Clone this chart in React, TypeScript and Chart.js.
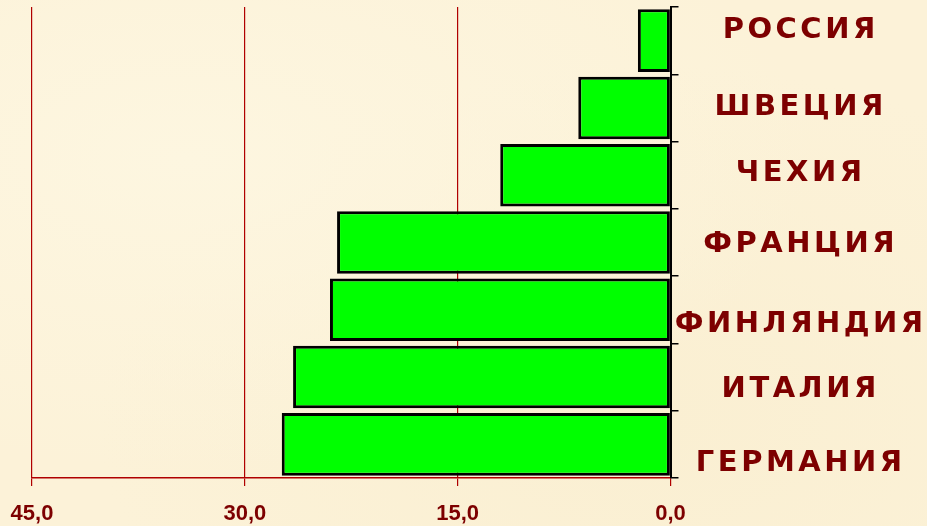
import React, { useEffect, useRef } from "react";
import { Chart, registerables } from "chart.js";

Chart.register(...registerables);

const countries = ["РОССИЯ", "ШВЕЦИЯ", "ЧЕХИЯ", "ФРАНЦИЯ", "ФИНЛЯНДИЯ", "ИТАЛИЯ", "ГЕРМАНИЯ"];
const values = [2.3, 6.5, 12.0, 23.5, 24.0, 26.6, 27.4];
const axisMin = 0;
const axisMax = 45;
const axisStep = 15;

// vertical nudges (px) of the category labels, as in the reference
const labelShift = [-10, 0, -2, 2, 15, 12, 19];

const MAROON = "#7d0000";
const GRID_RED = "#b00000";

const spacingPlugin = {
  id: "labelSpacing",
  afterDatasetsDraw(chart: any) {
    (chart.ctx as any).letterSpacing = "3.5px";
  },
  afterDraw(chart: any) {
    (chart.ctx as any).letterSpacing = "0px";
  },
};

export default function App() {
  const ref = useRef<HTMLCanvasElement | null>(null);
  useEffect(() => {
    if (!ref.current) return;
    const chart = new Chart(ref.current, {
      type: "bar",
      data: {
        labels: countries,
        datasets: [
          {
            data: values,
            backgroundColor: "#00ff00",
            borderColor: "#000000",
            borderWidth: 3,
            borderSkipped: false,
            barPercentage: 0.93,
            categoryPercentage: 1,
          },
        ],
      },
      options: {
        indexAxis: "y",
        responsive: false,
        animation: false,
        layout: { autoPadding: false, padding: { left: 32, top: 7, right: 0, bottom: 0 } },
        plugins: { legend: { display: false }, tooltip: { enabled: false } },
        scales: {
          x: {
            reverse: true,
            min: axisMin,
            max: axisMax,
            afterFit: (s: any) => {
              s.height = 48;
              s.paddingLeft = 0;
              s.paddingRight = 0;
              s.paddingTop = 0;
              s.paddingBottom = 0;
            },
            ticks: {
              stepSize: axisStep,
              color: MAROON,
              padding: 15,
              font: { family: "'Liberation Sans', Arial, sans-serif", size: 22, weight: "bold" },
              callback: (v: any) => Number(v).toFixed(1).replace(".", ","),
            },
            grid: { color: GRID_RED, lineWidth: 1.2, tickLength: 8, drawOnChartArea: true },
            border: { color: GRID_RED, width: 1.5 },
          },
          y: {
            position: "right",
            afterFit: (s: any) => {
              s.width = 256.5;
              s.paddingLeft = 0;
              s.paddingRight = 0;
              s.paddingTop = 0;
              s.paddingBottom = 0;
            },
            ticks: {
              z: 1,
              color: MAROON,
              padding: 12,
              crossAlign: "center",
              autoSkip: false,
              font: (ctx: any) => {
                const sh = labelShift[ctx.index] || 0;
                return {
                  family: "'DejaVu Sans', sans-serif",
                  size: 29,
                  weight: "bold",
                  lineHeight: sh !== 0 ? `${Math.abs(sh) * 2}px` : 1.2,
                };
              },
              callback: function (this: any, v: any, i: number) {
                const lbl = countries[i];
                const sh = labelShift[i] || 0;
                if (sh > 0) return ["", lbl];
                if (sh < 0) return [lbl, ""];
                return lbl;
              },
            },
            grid: { color: "#000000", lineWidth: 1.5, tickLength: 8, drawOnChartArea: false, offset: true },
            border: { color: "#000000", width: 2 },
          },
        },
      },
      plugins: [spacingPlugin],
    } as any);
    return () => chart.destroy();
  }, []);

  return (
    <div
      style={{
        position: "fixed",
        left: 0,
        top: 0,
        width: 927,
        height: 526,
        background:
          "radial-gradient(ellipse at 20% 30%, #fdf6e0 0%, rgba(253,246,224,0) 60%), radial-gradient(ellipse at 70% 80%, #faefd2 0%, rgba(250,239,210,0) 60%), #fcf2d8",
      }}
    >
      <canvas ref={ref} width={927} height={526} style={{ display: "block" }} />
    </div>
  );
}
